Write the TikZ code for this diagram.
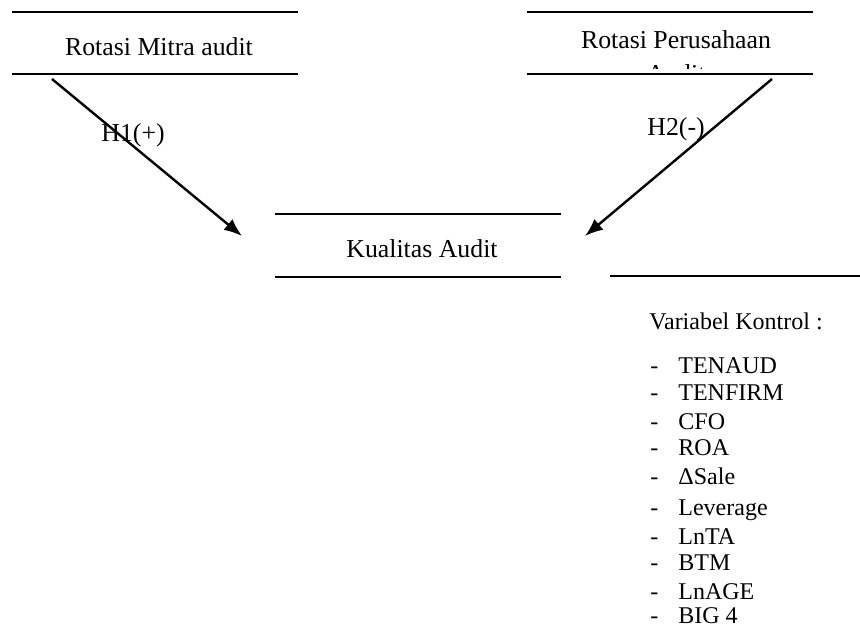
\documentclass[tikz,border=0pt]{standalone}
\usepackage{fontspec}
\setmainfont{Liberation Serif}
\usetikzlibrary{arrows.meta}
\usetikzlibrary{positioning}
\tikzset{teks/.style = {inner sep=0pt, font=\fontsize{12.9}{15.5}\selectfont},
         teksk/.style = {inner sep=0pt, font=\fontsize{12}{14.4}\selectfont},
         garis/.style = {line width=1.1pt},
         panah/.style = {line width=1.2pt, -{Latex[length=9pt,width=7pt]}}}

\begin{document}
\begin{tikzpicture}[x=0.5pt, y=-0.5pt]
			\useasboundingbox (0,0) rectangle (860,627);
			% variabel
			\node [teks, anchor=base] (mitra) at (159, 55) {Rotasi Mitra audit};
			\node [teks, anchor=base] (perusahaan) at (676, 48) {Rotasi Perusahaan};
			\begin{scope}
				\clip (527, 63.5) rectangle (813, 68);
				\node [teks, anchor=base] (audit) at (676, 82) {Audit};
			\end{scope}
			\node [teks, anchor=base] (kualitas) at (422, 257) {Kualitas Audit};
			\draw [garis] (12, 12) to (298, 12);
			\draw [garis] (12, 74) to (298, 74);
			\draw [garis] (527, 12) to (813, 12);
			\draw [garis] (527, 74) to (813, 74);
			\draw [garis] (275, 214) to (561, 214);
			\draw [garis] (275, 277) to (561, 277);
			\draw [garis] (610, 276) to (860, 276);
			% hipotesis
			\coordinate (a1) at (52, 79);
			\coordinate (b1) at (242, 236);
			\coordinate (a2) at (772, 79);
			\coordinate (b2) at (585, 236);
			\draw [panah] (a1) to (b1);
			\draw [panah] (a2) to (b2);
			\node [teks, anchor=base west] (h1) at (101, 141) {H1(+)};
			\node [teks, anchor=base west] (h2) at (647, 135) {H2(-)};
			% kontrol
			\node [teksk, anchor=base west] (kontrol) at (649, 329) {Variabel Kontrol :};
			\foreach \nama/\y in {TENAUD/373, TENFIRM/400, CFO/429, ROA/455, ΔSale/484,
			                      Leverage/515, LnTA/544, BTM/570, LnAGE/599, BIG 4/623}
			{
				\node [teksk, anchor=base west] at (650, \y) {-};
				\node [teksk, anchor=base west] at (678, \y) {\nama};
			}
		\end{tikzpicture}
\end{document}
